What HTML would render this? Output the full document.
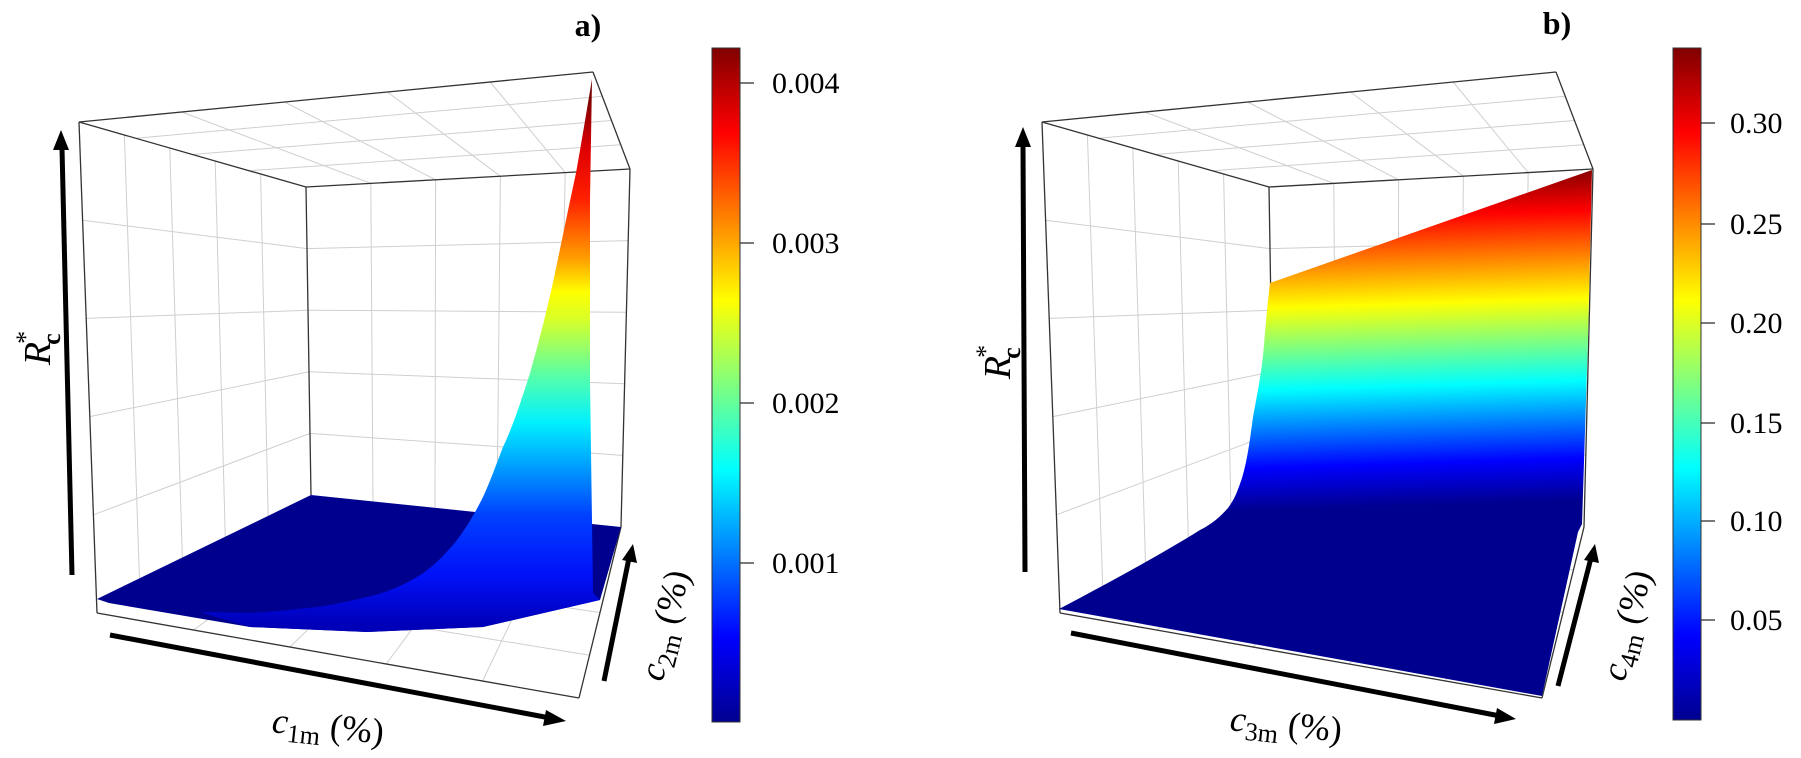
<!DOCTYPE html>
<html><head><meta charset="utf-8">
<style>
html,body{margin:0;padding:0;background:#fff;}
svg{display:block;}
text{font-family:"Liberation Serif",serif;}
</style></head>
<body>
<svg id="s" width="1801" height="758" viewBox="0 0 1801 758" xmlns="http://www.w3.org/2000/svg">
<defs>
<linearGradient id="jetbar" x1="0" y1="1" x2="0" y2="0">
<stop offset="0" stop-color="#00008f"/><stop offset="0.125" stop-color="#0000ff"/>
<stop offset="0.375" stop-color="#00ffff"/><stop offset="0.625" stop-color="#ffff00"/>
<stop offset="0.875" stop-color="#ff0000"/><stop offset="1" stop-color="#800000"/>
</linearGradient>
<linearGradient id="ga" gradientUnits="userSpaceOnUse" x1="0" y1="625" x2="0" y2="79">
<stop offset="0" stop-color="#0000b8"/>
<stop offset="0.09" stop-color="#0010f8"/>
<stop offset="0.2" stop-color="#0040ff"/>
<stop offset="0.3" stop-color="#00a8ff"/>
<stop offset="0.37" stop-color="#00f0ff"/>
<stop offset="0.45" stop-color="#50ffb0"/>
<stop offset="0.56" stop-color="#d8ff28"/>
<stop offset="0.61" stop-color="#ffff00"/>
<stop offset="0.67" stop-color="#ffa000"/>
<stop offset="0.78" stop-color="#ff2000"/>
<stop offset="0.87" stop-color="#e00000"/>
<stop offset="0.96" stop-color="#800000"/>
<stop offset="1" stop-color="#700000"/>
</linearGradient>
<linearGradient id="gb" gradientUnits="userSpaceOnUse" x1="1430" y1="505" x2="1420" y2="172">
<stop offset="0" stop-color="#00008f"/><stop offset="0.126" stop-color="#0000ff"/>
<stop offset="0.36" stop-color="#00ffff"/><stop offset="0.606" stop-color="#ffff00"/>
<stop offset="0.87" stop-color="#ff0000"/><stop offset="1" stop-color="#800000"/>
</linearGradient>
</defs>
<g id="grids" stroke="#cfcfcf" stroke-width="1" fill="none"></g>
<g id="edges" stroke="#333" stroke-width="1.3" fill="none"></g>

<polygon fill="#00008f" points="97,599 311,495 621,527 600,600 483,627 367,632 250,627 109,603"/>
<path fill="url(#ga)" d="M592,79 C586,115 581,145 576,173 C568,210 562,240 555,273 C546,315 538,345 530,373 C520,405 512,428 503,447 C496,465 490,482 483,497 C474,515 466,528 457,540 C444,556 432,568 417,577 C400,587 385,593 367,597 C350,601 333,605 317,607 C290,610 270,612 250,613 L200,612 L250,627 L367,632 L483,627 L600,600 L593,593 L590,380 L590,200 Z"/>

<path fill="url(#gb)" d="M1270,283 L1592,170 L1588,338 L1582,524 L1578,532 L1542,696 L1059,609 C1110,582 1160,555 1200,530 C1212,524 1220,517 1228,508 C1234,500 1237,493 1242,478 C1247,462 1250,440 1253,417 C1258,390 1262,370 1264,345 C1266,320 1268,300 1270,283 Z"/>

<g stroke="#000" stroke-width="5" fill="#000">
<line x1="72" y1="575" x2="62" y2="148"/>
<line x1="110" y1="635" x2="550" y2="718"/>
<line x1="604" y1="681" x2="629" y2="558"/>
<line x1="1025" y1="572" x2="1023" y2="145"/>
<line x1="1071" y1="633" x2="1500" y2="716"/>
<line x1="1558" y1="686" x2="1591" y2="558"/>
</g>
<g fill="#000">
<polygon points="61,130 53,150 69,150"/>
<polygon points="566,721 546,710 543,726"/>
<polygon points="633,544 622,560 637,563"/>
<polygon points="1023,127 1015,147 1031,147"/>
<polygon points="1516,719 1497,708 1494,724"/>
<polygon points="1595,544 1584,560 1599,563"/>
</g>

<text x="588" y="36" font-size="32" font-weight="bold" text-anchor="middle">a)</text>
<text x="1557" y="34" font-size="32" font-weight="bold" text-anchor="middle">b)</text>

<text transform="translate(50,348) rotate(-90)" font-size="38" text-anchor="middle"><tspan font-style="italic">R</tspan><tspan font-size="26" dy="-16" dx="-2">*</tspan><tspan font-size="26" font-weight="bold" dy="26" dx="-14">c</tspan></text>
<text transform="translate(1010,362) rotate(-90)" font-size="38" text-anchor="middle"><tspan font-style="italic">R</tspan><tspan font-size="26" dy="-16" dx="-2">*</tspan><tspan font-size="26" font-weight="bold" dy="26" dx="-14">c</tspan></text>

<text x="328" y="738" font-size="36" text-anchor="middle" transform="rotate(6 328 727)"><tspan font-style="italic">c</tspan><tspan font-size="26" dy="8">1m</tspan><tspan dy="-8"> (%)</tspan></text>
<text x="1286" y="736" font-size="36" text-anchor="middle" transform="rotate(6 1286 725)"><tspan font-style="italic">c</tspan><tspan font-size="26" dy="8">3m</tspan><tspan dy="-8"> (%)</tspan></text>
<text transform="translate(676,628) rotate(-76)" font-size="36" text-anchor="middle"><tspan font-style="italic">c</tspan><tspan font-size="26" dy="8">2m</tspan><tspan dy="-8"> (%)</tspan></text>
<text transform="translate(1638,628) rotate(-76)" font-size="36" text-anchor="middle"><tspan font-style="italic">c</tspan><tspan font-size="26" dy="8">4m</tspan><tspan dy="-8"> (%)</tspan></text>

<rect x="712" y="48" width="28" height="674" fill="url(#jetbar)" stroke="#333" stroke-width="1"/>
<g stroke="#333" stroke-width="1.3">
<line x1="740" y1="83" x2="754" y2="83"/><line x1="740" y1="243" x2="754" y2="243"/>
<line x1="740" y1="403" x2="754" y2="403"/><line x1="740" y1="563" x2="754" y2="563"/>
</g>
<g font-size="30">
<text x="772" y="93">0.004</text><text x="772" y="253">0.003</text>
<text x="772" y="413">0.002</text><text x="772" y="573">0.001</text>
</g>
<rect x="1673" y="48" width="28" height="672" fill="url(#jetbar)" stroke="#333" stroke-width="1"/>
<g stroke="#333" stroke-width="1.3">
<line x1="1701" y1="123" x2="1715" y2="123"/><line x1="1701" y1="224" x2="1715" y2="224"/>
<line x1="1701" y1="323" x2="1715" y2="323"/><line x1="1701" y1="423" x2="1715" y2="423"/>
<line x1="1701" y1="521" x2="1715" y2="521"/><line x1="1701" y1="620" x2="1715" y2="620"/>
</g>
<g font-size="30">
<text x="1730" y="133">0.30</text><text x="1730" y="234">0.25</text>
<text x="1730" y="333">0.20</text><text x="1730" y="433">0.15</text>
<text x="1730" y="531">0.10</text><text x="1730" y="630">0.05</text>
</g>
</svg>
<script>
(function(){
var NS="http://www.w3.org/2000/svg";
var g=document.getElementById("grids"), e=document.getElementById("edges");
function box(dx){
 var B00=[97+dx,613],B10=[579+dx,698],B11=[621+dx,527],B01=[311+dx,495];
 var T00=[79+dx,122],T10=[593+dx,72],T11=[630+dx,169],T01=[306+dx,187];
 function lerp(a,b,t){return [a[0]+(b[0]-a[0])*t,a[1]+(b[1]-a[1])*t];}
 function P(u,v,w){
  var b=lerp(lerp(B00,B10,u),lerp(B01,B11,u),v);
  var t=lerp(lerp(T00,T10,u),lerp(T01,T11,u),v);
  return lerp(b,t,w);
 }
 function line(p,q,par){var l=document.createElementNS(NS,"line");
  l.setAttribute("x1",p[0]);l.setAttribute("y1",p[1]);l.setAttribute("x2",q[0]);l.setAttribute("y2",q[1]);par.appendChild(l);}
 var i;
 for(i=1;i<5;i++){var t=i/5;
  line(P(0,t,0),P(0,t,1),g); line(P(0,0,t),P(0,1,t),g);
  line(P(t,1,0),P(t,1,1),g); line(P(0,1,t),P(1,1,t),g);
  line(P(t,0,1),P(t,1,1),g); line(P(t,0,0),P(t,1,0),g);
 }
 for(i=1;i<4;i++){var s=i/4; line(P(0,s,1),P(1,s,1),g); line(P(0,s,0),P(1,s,0),g);}
 line(T00,T10,e);line(T10,T11,e);line(T11,T01,e);line(T01,T00,e);
 line(T00,B00,e);line(T01,B01,e);line(T11,B11,e);
 line(B00,B10,e);line(B10,B11,e);
}
box(0);box(963);
})();
</script>
</body></html>
